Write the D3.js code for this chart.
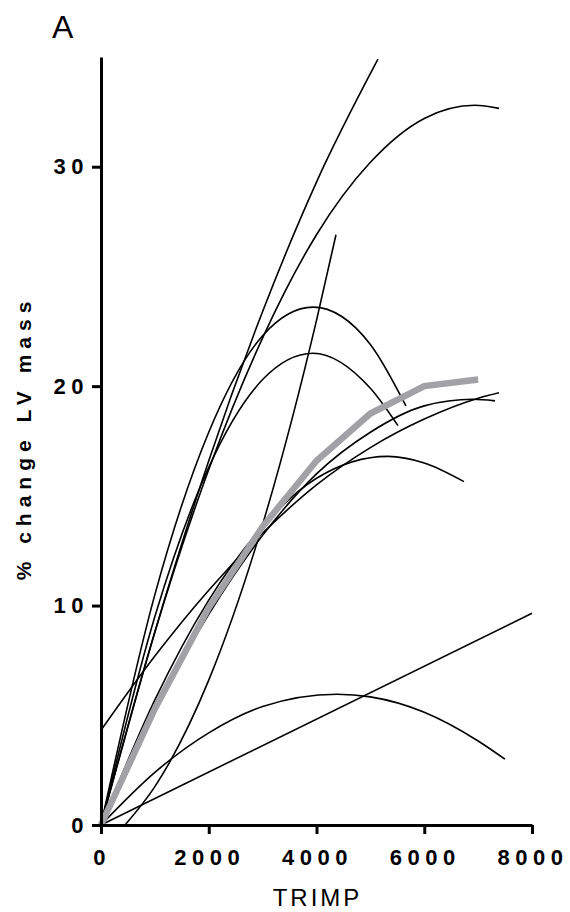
<!DOCTYPE html>
<html>
<head>
<meta charset="utf-8">
<script src="https://d3js.org/d3.v7.min.js"></script>
<style>
  body { margin: 0; background: #fff; }
  svg { display: block; }
  text { font-family: "Liberation Sans", Arial, sans-serif; fill: #000; }
</style>
</head>
<body>
<script>
// individual athlete fits: [TRIMP, % change LV mass]
const fitA = [[0, 0], [1000, 8.8], [2000, 16.6], [3000, 23.4], [4000, 29.3], [5141, 34.9]];
const fitB = [[0, 0], [1000, 8.8], [2000, 16.2], [3000, 22.2], [4000, 26.9], [5000, 30.2], [6000, 32.2], [6940, 32.8], [7387, 32.66]];
const fitC = [[0, 0], [1000, 10.5], [2000, 17.9], [3000, 22.3], [3935, 23.6], [5000, 21.9], [5660, 19.1]];
const fitD = [[0, 0], [1000, 9.5], [2000, 16.3], [3000, 20.3], [3935, 21.5], [5000, 19.9], [5512, 18.2]];
const fitE = [[445, 0], [1000, 1.75], [2000, 6.6], [3000, 13.7], [4000, 23.0], [4362, 26.9]];
const fitF = [[0, 0], [1000, 5.7], [2000, 10.25], [3000, 13.6], [4000, 15.8], [5327, 16.8], [6000, 16.5], [6737, 15.65]];
const fitG = [[0, 0], [1000, 5.2], [2000, 9.6], [3000, 13.2], [4000, 16.0], [5000, 17.9], [6000, 19.1], [6900, 19.4], [7313, 19.33]];
const fitH = [[0, 4.32], [1000, 7.7], [2000, 10.7], [3000, 13.3], [4000, 15.5], [5000, 17.2], [6000, 18.5], [7000, 19.45], [7387, 19.7]];
const fitI = [[0, 0], [1000, 2.4], [2000, 4.2], [3000, 5.4], [4380, 5.96], [5000, 5.84], [6000, 5.14], [7000, 3.83], [7498, 3.0]];
const fitJ = [[0, 0], [8000, 9.65]];
const fits = [fitA, fitB, fitC, fitD, fitE, fitF, fitG, fitH, fitI, fitJ];

// group mean
const meanTrimp = [0, 1000, 2000, 3000, 4000, 5000, 6000, 7000];
const meanChange = [0, 5.3, 9.9, 13.6, 16.6, 18.75, 20.0, 20.3];

const xTicks = [0, 2000, 4000, 6000, 8000];
const yTicks = [0, 10, 20, 30];

const width = 570, height = 912;
const svg = d3.select('body').append('svg')
  .attr('width', width)
  .attr('height', height);

const x = d3.scaleLinear().domain([0, 8000]).range([101, 532]);
const y = d3.scaleLinear().domain([0, 35]).range([825, 57]);

const line = d3.line()
  .x(d => x(d[0]))
  .y(d => y(d[1]))
  .curve(d3.curveMonotoneX);

svg.append('g')
  .selectAll('path')
  .data(fits)
  .join('path')
  .attr('d', line)
  .attr('fill', 'none')
  .attr('stroke', '#000')
  .attr('stroke-width', 1.6);

const meanLine = d3.line()
  .x((d, i) => x(meanTrimp[i]))
  .y(d => y(d));

svg.append('path')
  .attr('d', meanLine(meanChange))
  .attr('fill', 'none')
  .attr('stroke', '#a2a2a6')
  .attr('stroke-width', 6.5)
  .attr('stroke-linejoin', 'miter');

// axes
const gx = svg.append('g')
  .attr('transform', 'translate(0,825)')
  .call(d3.axisBottom(x).tickValues(xTicks).tickFormat(d3.format('d'))
    .tickSize(9).tickSizeOuter(0).tickPadding(10));
const gy = svg.append('g')
  .attr('transform', 'translate(101,0)')
  .call(d3.axisLeft(y).tickValues(yTicks).tickFormat(d3.format('d'))
    .tickSize(9).tickSizeOuter(0).tickPadding(13));

[gx, gy].forEach(g => {
  g.select('.domain').attr('stroke', '#000').attr('stroke-width', 3);
  g.selectAll('.tick line').attr('stroke', '#000').attr('stroke-width', 3);
  g.selectAll('.tick text')
    .attr('fill', '#000')
    .style('font-family', '"Liberation Sans", Arial, sans-serif')
    .style('font-size', '22px')
    .style('font-weight', 'bold')
    .style('letter-spacing', '5.5px');
});
gx.selectAll('.tick text').attr('dx', 0.5).attr('dy', '0.95em');
gy.selectAll('.tick text').attr('dx', 10);

svg.append('text')
  .attr('x', 316)
  .attr('y', 906)
  .attr('text-anchor', 'middle')
  .attr('dx', 1.5)
  .style('font-size', '24px')
  .style('letter-spacing', '3px')
  .text('TRIMP');

svg.append('text')
  .attr('transform', 'translate(31,441) rotate(-90)')
  .attr('text-anchor', 'middle')
  .attr('dx', 3)
  .style('font-size', '21px')
  .style('font-weight', 'bold')
  .style('letter-spacing', '6px')
  .text('% change LV mass');

svg.append('text')
  .attr('x', 52)
  .attr('y', 38)
  .style('font-size', '32px')
  .text('A');
</script>
</body>
</html>
